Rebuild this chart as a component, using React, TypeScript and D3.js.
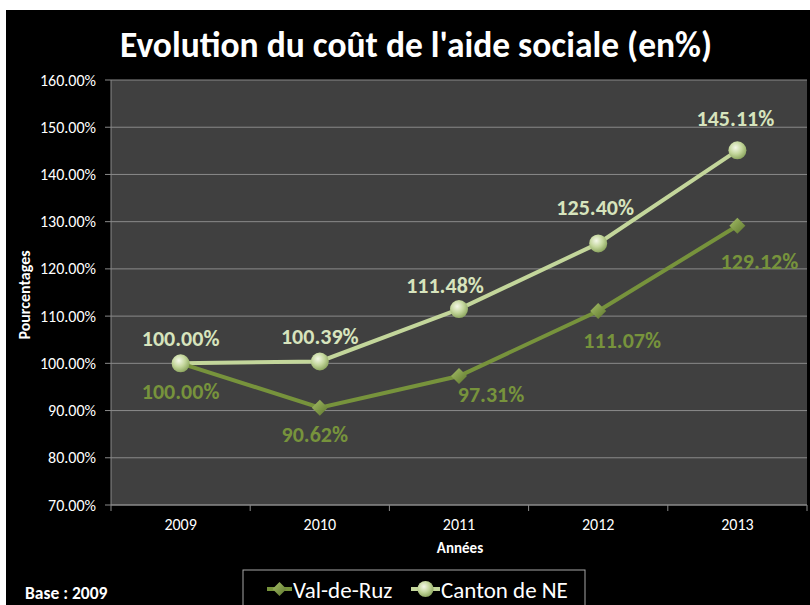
import React, { useEffect } from 'react';
import * as d3 from 'd3';

// chart data
const years = ['2009', '2010', '2011', '2012', '2013'];
const valDeRuz = [100, 90.62, 97.31, 111.07, 129.12];
const cantonNE = [100, 100.39, 111.48, 125.4, 145.11];
const yTicks = [70, 80, 90, 100, 110, 120, 130, 140, 150, 160];

// manual label nudges (Excel-placed labels), in px from the point
const valLabelOffset = [[0, 28], [-5, 27], [32, 18], [24, 29], [22, 35]];
const cantonLabelOffset = [[0, -25], [0, -25], [-14, -24], [-3, -36], [-2, -32]];

const FONT = 'Carlito, Calibri, Lato, sans-serif';
const VAL_COLOR = '#77933C';
const CANTON_COLOR = '#C3D69B';
const CANTON_TEXT = '#D7E4BD';

const fmt = (v: number) => v.toFixed(2) + '%';

export default function App() {
  useEffect(() => {
    document.body.style.margin = '0';
  }, []);

  const margin = { top: 80, right: 3, bottom: 100, left: 111 };
  const width = 810;
  const height = 605;

  const x = d3.scaleBand().domain(years).range([margin.left, width - margin.right]);
  const y = d3.scaleLinear().domain([70, 160]).range([height - margin.bottom, margin.top]);
  const cx = (d: string) => (x(d) as number) + x.bandwidth() / 2;

  const line = d3.line<number>()
    .x((_, i) => cx(years[i]))
    .y(d => y(d));

  const diamond = (px: number, py: number, r: number) =>
    `M${px},${py - r}L${px + r},${py}L${px},${py + r}L${px - r},${py}Z`;

  const plotBottom = y(70);
  const plotTop = y(160);

  return (
    <svg width={width} height={height} style={{ display: 'block' }}>
      <defs>
        <radialGradient id="sphere" cx="40%" cy="35%" r="65%">
          <stop offset="0%" stopColor="#f4f8e8" />
          <stop offset="55%" stopColor="#c3d69b" />
          <stop offset="100%" stopColor="#8fa862" />
        </radialGradient>
        <linearGradient id="gem" x1="0" y1="0" x2="1" y2="1">
          <stop offset="0%" stopColor="#a6c068" />
          <stop offset="100%" stopColor="#5c742c" />
        </linearGradient>
      </defs>
      <rect x={0} y={0} width={width} height={height} fill="#fff" />
      <rect x={6} y={10} width={width - 6} height={height - 10} fill="#000" />

      <text x={416} y={57} textAnchor="middle" fill="#fff" fontFamily={FONT}
        fontWeight="bold" fontSize={35.5}>Evolution du coût de l'aide sociale (en%)</text>

      {/* plot area */}
      <rect x={margin.left} y={plotTop} width={width - margin.right - margin.left}
        height={plotBottom - plotTop} fill="#404040" />

      {/* gridlines + y axis */}
      {yTicks.map(t => (
        <g key={t}>
          {t > 70 && (
            <line x1={margin.left} x2={width - margin.right} y1={y(t)} y2={y(t)}
              stroke="#8a8a8a" strokeWidth={1} />
          )}
          <line x1={margin.left - 6} x2={margin.left} y1={y(t)} y2={y(t)} stroke="#8a8a8a" />
          <text x={96} y={y(t)} dy="0.35em" textAnchor="end" fill="#fff"
            fontFamily={FONT} fontSize={16}>{fmt(t)}</text>
        </g>
      ))}
      <line x1={margin.left} x2={margin.left} y1={plotTop} y2={plotBottom} stroke="#8a8a8a" />

      {/* x axis */}
      <line x1={margin.left} x2={width - margin.right} y1={plotBottom} y2={plotBottom}
        stroke="#8a8a8a" strokeWidth={1.5} />
      {years.map((yr, i) => (
        <g key={yr}>
          <line x1={(x(yr) as number) + x.bandwidth()} x2={(x(yr) as number) + x.bandwidth()}
            y1={plotBottom} y2={plotBottom + 6} stroke="#8a8a8a" />
          {i === 0 && <line x1={x(yr)} x2={x(yr)} y1={plotBottom} y2={plotBottom + 6} stroke="#8a8a8a" />}
          <text x={cx(yr)} y={524} dy="0.35em" textAnchor="middle" fill="#fff"
            fontFamily={FONT} fontSize={16}>{yr}</text>
        </g>
      ))}

      <text x={460} y={548} dy="0.35em" textAnchor="middle" fill="#fff" fontFamily={FONT}
        fontWeight="bold" fontSize={15}>Années</text>
      <text transform="translate(24,295) rotate(-90)" textAnchor="middle" dy="0.35em"
        fill="#fff" fontFamily={FONT} fontWeight="bold" fontSize={16}>Pourcentages</text>
      <text x={25} y={593} dy="0.35em" fill="#fff" fontFamily={FONT} fontWeight="bold"
        fontSize={17.5}>Base : 2009</text>

      {/* series lines */}
      <path d={line(cantonNE) ?? ''} fill="none" stroke={CANTON_COLOR} strokeWidth={4} />
      <path d={line(valDeRuz) ?? ''} fill="none" stroke={VAL_COLOR} strokeWidth={4} />

      {/* markers */}
      {valDeRuz.map((v, i) => (
        <path key={'d' + i} d={diamond(cx(years[i]), y(v), 8)} fill="url(#gem)" />
      ))}
      {cantonNE.map((v, i) => (
        <circle key={'c' + i} cx={cx(years[i])} cy={y(v)} r={9} fill="url(#sphere)" />
      ))}

      {/* data labels */}
      {cantonNE.map((v, i) => (
        <text key={'cl' + i} x={cx(years[i]) + cantonLabelOffset[i][0]}
          y={y(v) + cantonLabelOffset[i][1]} dy="0.35em" textAnchor="middle"
          fill={CANTON_TEXT} fontFamily={FONT} fontWeight="bold" fontSize={22}>{fmt(v)}</text>
      ))}
      {valDeRuz.map((v, i) => (
        <text key={'vl' + i} x={cx(years[i]) + valLabelOffset[i][0]}
          y={y(v) + valLabelOffset[i][1]} dy="0.35em" textAnchor="middle"
          fill={VAL_COLOR} fontFamily={FONT} fontWeight="bold" fontSize={22}>{fmt(v)}</text>
      ))}

      {/* legend */}
      <rect x={243} y={570} width={342} height={40} fill="#000" stroke="#a6a6a6" />
      <line x1={267} x2={292} y1={589} y2={589} stroke={VAL_COLOR} strokeWidth={4} />
      <path d={diamond(279.5, 589, 7)} fill="url(#gem)" />
      <text x={293} y={590} dy="0.35em" fill="#fff" fontFamily={FONT} fontSize={23}>Val-de-Ruz</text>
      <line x1={411} x2={440} y1={589} y2={589} stroke={CANTON_COLOR} strokeWidth={4} />
      <circle cx={425.5} cy={589} r={8} fill="url(#sphere)" />
      <text x={441} y={590} dy="0.35em" fill="#fff" fontFamily={FONT} fontSize={23}>Canton de NE</text>
    </svg>
  );
}
